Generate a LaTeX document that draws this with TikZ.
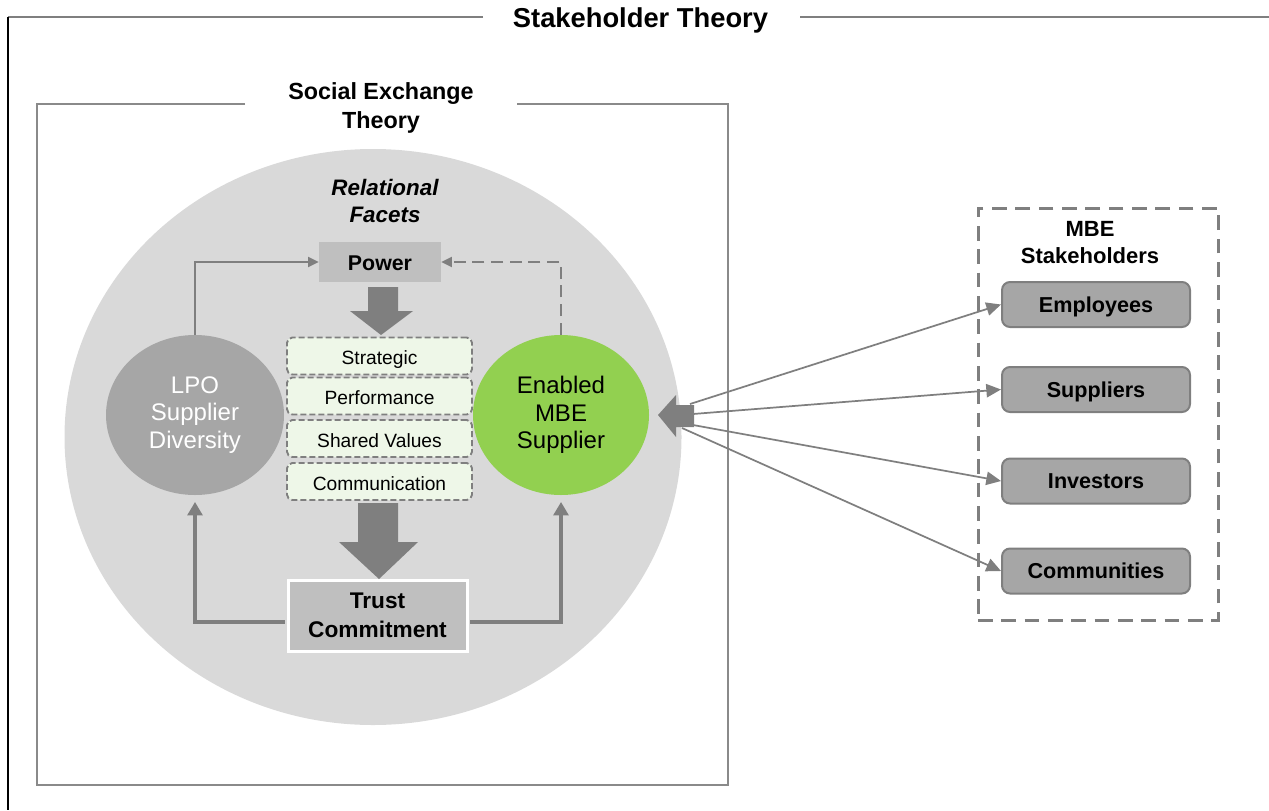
\documentclass[tikz,border=0pt]{standalone}
\usepackage{fontspec}
\setmainfont{Liberation Sans}
\usetikzlibrary{arrows.meta,shapes.geometric}
\definecolor{circgray}{HTML}{D9D9D9}
\definecolor{arrgray}{HTML}{7F7F7F}
\definecolor{boxgray}{HTML}{BFBFBF}
\definecolor{stkgray}{HTML}{A6A6A6}
\definecolor{facetgreen}{HTML}{EEF7E8}
\definecolor{mbegreen}{HTML}{92D050}
\definecolor{innerframe}{HTML}{8A8A8A}
\tikzset{
  frametitle/.style={font=\bfseries\fontsize{17.5}{21.75}\selectfont, align=center, inner sep=0},
  facet/.style={draw=arrgray, line width=1.4pt, dash pattern=on 4.5pt off 2.25pt, fill=facetgreen,
    rounded corners=4pt, minimum width=138.75pt, minimum height=27.75pt, inner sep=0,
    text height=13.2pt, text depth=0pt, font=\fontsize{14.4}{16}\selectfont},
  stkbox/.style={draw=arrgray, line width=1.5pt, fill=stkgray, rounded corners=6pt,
    minimum width=141pt, minimum height=33.75pt, inner sep=0,
    text height=13.2pt, text depth=1.9pt, font=\bfseries\fontsize{16.2}{19}\selectfont},
  actor/.style={ellipse, inner sep=0, minimum width=133.5pt, minimum height=120pt,
    font=\fontsize{18}{20.6}\selectfont, align=center},
  thinarr/.style={draw=arrgray, line width=1.5pt, -{Triangle[length=8pt,width=7.5pt]}},
  thickarr/.style={draw=arrgray, line width=3pt, -{Triangle[length=10pt,width=11pt]}},
  fanarr/.style={draw=arrgray, line width=1.3pt, -{Triangle[length=11pt,width=10pt]}},
  blockarr/.style={fill=arrgray},
}
\begin{document}
\begin{tikzpicture}[x=0.75pt,y=-0.75pt]
\useasboundingbox (0,0) rectangle (1269,810);

% outer frame: Stakeholder Theory
\node[font=\bfseries\fontsize{20.5}{24}\selectfont, anchor=base, inner sep=0] (sttl) at (640.5,27) {Stakeholder Theory};
\draw[arrgray, line width=1.2pt] (483,17) -- (8,17);
\draw[arrgray, line width=1.2pt] (800,17) -- (1269,17);
\draw[black, line width=0.8pt] (8,17) -- (8,810);

% inner frame: Social Exchange Theory
\draw[innerframe, line width=1.2pt] (245,104) -- (37,104) -- (37,785) -- (728,785) -- (728,104) -- (517,104);
\node[frametitle] (setl) at (381,108) {Social Exchange\\Theory};

% big circle
\node[ellipse, fill=circgray, minimum width=462.75pt, minimum height=432pt, inner sep=0] (big) at (373,437) {};

\node[font=\bfseries\itshape\fontsize{16.8}{20.25}\selectfont, align=center, inner sep=0] (rf) at (385,200.5) {Relational\\Facets};

\node[fill=boxgray, minimum width=91.5pt, minimum height=30pt, inner sep=0,
  text height=14pt, text depth=1.4pt, font=\bfseries\fontsize{16}{19}\selectfont] (power) at (380,262) {Power};

\node[actor, fill=stkgray, text=white] (lpo) at (195,415) {LPO\\Supplier\\Diversity};
\node[actor, fill=mbegreen, minimum width=132pt] (mbe) at (561,415) {Enabled\\MBE\\Supplier};

\node[facet] (strat) at (379.5,356) {Strategic};
\node[facet] (perf) at (379.5,396) {Performance};
\node[facet] (shared) at (379.5,438.5) {Shared Values};
\node[facet] (comm) at (379.5,481.5) {Communication};

\node[fill=boxgray, draw=white, line width=2.25pt, minimum width=134.25pt, minimum height=53.25pt,
  align=center, inner sep=0, font=\bfseries\fontsize{17}{21.75}\selectfont] (trust) at (377.5,615.5) {Trust\\Commitment};

% block arrows
\fill[blockarr] (368,287) -- (398,287) -- (398,311) -- (413,311) -- (381,335) -- (350,311) -- (368,311) -- cycle;
\fill[blockarr] (358,503) -- (398,503) -- (398,542) -- (418,542) -- (379,579) -- (339,542) -- (358,542) -- cycle;

% loops
\draw[thinarr] (lpo.north) |- (power.west);
\draw[thinarr, dash pattern=on 9pt off 5pt] (mbe.north) |- (power.east);
\draw[thickarr, shorten <=1.2pt, shorten >=5pt] ([yshift=-4.9pt]trust.west) -| (lpo.south);
\draw[thickarr, shorten <=1.2pt, shorten >=5pt] ([yshift=-4.9pt]trust.east) -| (mbe.south);

% stakeholders
\node[draw=arrgray, line width=2.25pt, dash pattern=on 11pt off 6.5pt, minimum width=180pt, minimum height=309pt, inner sep=0] (stk) at (1098,414) {};
\node[font=\bfseries\fontsize{16.5}{20.25}\selectfont, align=center, inner sep=0] (stkt) at (1090,242.5) {MBE\\Stakeholders};
\node[stkbox] (emp) at (1096,304.5) {Employees};
\node[stkbox] (sup) at (1096,389.5) {Suppliers};
\node[stkbox] (inv) at (1096,481) {Investors};
\node[stkbox] (com) at (1096,571) {Communities};

\fill[blockarr] (658,415) -- (676,395) -- (676,405) -- (694,405) -- (694,427) -- (676,427) -- (676,437) -- cycle;
\coordinate (h1) at (690,404);
\coordinate (h2) at (693,414);
\coordinate (h3) at (693,425);
\coordinate (h4) at (682,428);
\draw[fanarr] (h1) -- (emp.west);
\draw[fanarr] (h2) -- (sup.west);
\draw[fanarr] (h3) -- (inv.west);
\draw[fanarr] (h4) -- (com.west);
\end{tikzpicture}
\end{document}
